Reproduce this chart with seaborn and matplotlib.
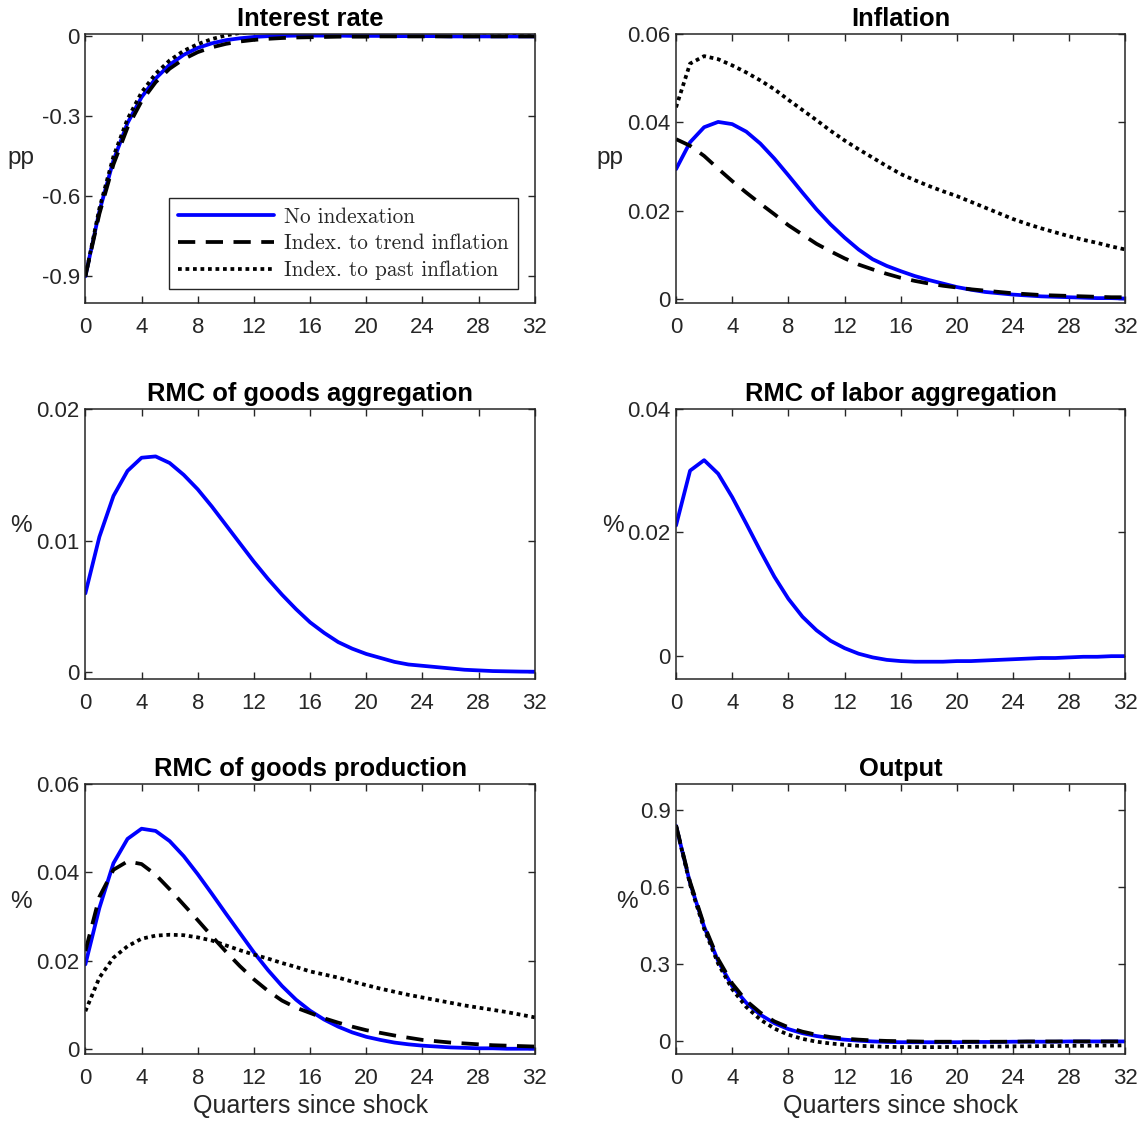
import matplotlib
matplotlib.use("Agg")
import matplotlib.pyplot as plt
import seaborn as sns
from matplotlib.ticker import FixedLocator, FuncFormatter

# ---- impulse responses, quarters 0..32 ----
quarters = list(range(33))

interest_none = [-0.900, -0.655, -0.465, -0.325, -0.228, -0.158, -0.106, -0.069, -0.043, -0.026,
                 -0.014, -0.007, -0.002, 0.001, 0.002, 0.003, 0.003, 0.003, 0.003, 0.002,
                 0.002, 0.002, 0.001, 0.001, 0.001, 0.001, 0.000, 0.000, 0.000, 0.000,
                 0.000, 0.000, 0.000]
interest_trend = [-0.900, -0.665, -0.480, -0.342, -0.243, -0.172, -0.121, -0.085, -0.059, -0.041,
                  -0.028, -0.019, -0.013, -0.009, -0.006, -0.004, -0.003, -0.002, -0.001, -0.001,
                  -0.001, 0.000, 0.000, 0.000, 0.000, 0.000, 0.000, 0.000, 0.000, 0.000,
                  0.000, 0.000, 0.000]
interest_past = [-0.900, -0.645, -0.450, -0.310, -0.210, -0.140, -0.090, -0.054, -0.029, -0.010,
                 0.004, 0.013, 0.017, 0.019, 0.020, 0.021, 0.021, 0.021, 0.021, 0.020,
                 0.020, 0.019, 0.019, 0.018, 0.017, 0.017, 0.016, 0.015, 0.015, 0.014,
                 0.013, 0.013, 0.012]

inflation_none = [0.0294, 0.0355, 0.0389, 0.0401, 0.0396, 0.0379, 0.0352, 0.0318, 0.0280, 0.0241,
                  0.0203, 0.0169, 0.0139, 0.0112, 0.0090, 0.0075, 0.0063, 0.0052, 0.0043, 0.0035,
                  0.0027, 0.0021, 0.0016, 0.0013, 0.0010, 0.0008, 0.0006, 0.0005, 0.0004, 0.0003,
                  0.0002, 0.0002, 0.0001]
inflation_trend = [0.0362, 0.0347, 0.0324, 0.0295, 0.0267, 0.0241, 0.0216, 0.0192, 0.0167, 0.0146,
                   0.0125, 0.0108, 0.0092, 0.0078, 0.0067, 0.0057, 0.0048, 0.0041, 0.0035, 0.0030,
                   0.0026, 0.0022, 0.0019, 0.0016, 0.0013, 0.0011, 0.0009, 0.0008, 0.0007, 0.0006,
                   0.0005, 0.0004, 0.0004]
inflation_past = [0.0434, 0.0533, 0.0550, 0.0543, 0.0529, 0.0513, 0.0495, 0.0475, 0.0451, 0.0428,
                  0.0405, 0.0381, 0.0359, 0.0339, 0.0320, 0.0301, 0.0283, 0.0269, 0.0256, 0.0244,
                  0.0233, 0.0220, 0.0207, 0.0194, 0.0181, 0.0170, 0.0160, 0.0151, 0.0142, 0.0134,
                  0.0127, 0.0119, 0.0112]

rmc_goods_agg = [0.0060, 0.0103, 0.0134, 0.0153, 0.0163, 0.0164, 0.0159, 0.0150, 0.0139, 0.0126,
                 0.0112, 0.0098, 0.0084, 0.0071, 0.0059, 0.0048, 0.0038, 0.0030, 0.0023, 0.0018,
                 0.0014, 0.0011, 0.0008, 0.0006, 0.0005, 0.0004, 0.0003, 0.0002, 0.00015, 0.0001,
                 0.00008, 0.00006, 0.00005]

rmc_labor_agg = [0.0211, 0.0300, 0.0317, 0.0295, 0.0257, 0.0214, 0.0170, 0.0128, 0.0092, 0.0063,
                 0.0041, 0.0024, 0.0012, 0.0003, -0.0003, -0.0007, -0.0009, -0.0010, -0.0010, -0.0010,
                 -0.0009, -0.0009, -0.0008, -0.0007, -0.0006, -0.0005, -0.0004, -0.0004, -0.0003, -0.0002,
                 -0.0002, -0.0001, -0.0001]

rmc_prod_none = [0.0192, 0.0320, 0.0421, 0.0476, 0.0499, 0.0494, 0.0471, 0.0437, 0.0396, 0.0352,
                 0.0307, 0.0263, 0.0219, 0.0179, 0.0143, 0.0112, 0.0087, 0.0067, 0.0051, 0.0038,
                 0.0028, 0.0021, 0.0015, 0.0011, 0.0008, 0.0006, 0.0004, 0.0003, 0.0002, 0.0002,
                 0.0001, 0.0001, 0.0001]
rmc_prod_trend = [0.0222, 0.0345, 0.0406, 0.0425, 0.0419, 0.0395, 0.0362, 0.0327, 0.0292, 0.0256,
                  0.0221, 0.0188, 0.0158, 0.0132, 0.0110, 0.0094, 0.0082, 0.0070, 0.0060, 0.0051,
                  0.0043, 0.0037, 0.0031, 0.0026, 0.0021, 0.0018, 0.0015, 0.0013, 0.0011, 0.0009,
                  0.0008, 0.0007, 0.0006]
rmc_prod_past = [0.0086, 0.0162, 0.0207, 0.0233, 0.0250, 0.0257, 0.0259, 0.0258, 0.0253, 0.0246,
                 0.0235, 0.0224, 0.0214, 0.0205, 0.0195, 0.0186, 0.0176, 0.0169, 0.0162, 0.0153,
                 0.0145, 0.0137, 0.0130, 0.0123, 0.0117, 0.0111, 0.0105, 0.0099, 0.0094, 0.0089,
                 0.0084, 0.0078, 0.0072]

output_none = [0.838, 0.615, 0.446, 0.312, 0.215, 0.150, 0.104, 0.071, 0.048, 0.032,
               0.021, 0.013, 0.007, 0.003, 0.000, -0.002, -0.003, -0.003, -0.003, -0.003,
               -0.003, -0.002, -0.002, -0.002, -0.001, -0.001, -0.001, -0.001, 0.000, 0.000,
               0.000, 0.000, 0.000]
output_trend = [0.840, 0.620, 0.452, 0.320, 0.225, 0.158, 0.112, 0.078, 0.055, 0.038,
                0.026, 0.017, 0.011, 0.007, 0.004, 0.002, 0.001, 0.000, -0.001, -0.001,
                -0.001, -0.001, -0.001, -0.001, -0.001, 0.000, 0.000, 0.000, 0.000, 0.000,
                0.000, 0.000, 0.000]
output_past = [0.838, 0.610, 0.438, 0.302, 0.203, 0.134, 0.085, 0.050, 0.026, 0.010,
               -0.001, -0.008, -0.013, -0.017, -0.019, -0.021, -0.022, -0.022, -0.022, -0.022,
               -0.021, -0.021, -0.020, -0.020, -0.019, -0.019, -0.018, -0.018, -0.017, -0.017,
               -0.016, -0.016, -0.015]

legend_labels = ["No indexation", "Index. to trend inflation", "Index. to past inflation"]
x_ticks = [0, 4, 8, 12, 16, 20, 24, 28, 32]

# ---- styling ----
sns.set_theme(style="ticks")
plt.rcParams["font.family"] = ["Liberation Sans", "DejaVu Sans"]
plt.rcParams["axes.unicode_minus"] = False

INK = "#262626"
LW = 2.7
TICK_FS = 16
LABEL_FS = 18
TITLE_FS = 18.4
styles = [
    dict(color="#0000ff", linestyle="-"),
    dict(color="black", linestyle=(0, (4.6, 2.8))),
    dict(color="black", linestyle=(0, (1.0, 1.0)), dash_capstyle="butt"),
]

fig = plt.figure(figsize=(11.46, 11.23), dpi=100)

col_left = [0.0745, 0.5899]
col_w = 0.3922
row_bottom = [0.7302, 0.3954, 0.0614]
row_h = [0.2395, 0.2404, 0.2404]


def fmt(v, pos):
    if abs(v) < 1e-12:
        return "0"
    return ("%g" % v)


def make_axes(row, col):
    return fig.add_axes([col_left[col], row_bottom[row], col_w, row_h[row]])


def style_axes(ax, title, ylabel, yticks, ylim, label_xy, xlabel=None):
    ax.set_xlim(0, 32)
    ax.set_ylim(*ylim)
    ax.xaxis.set_major_locator(FixedLocator(x_ticks))
    ax.yaxis.set_major_locator(FixedLocator(yticks))
    ax.yaxis.set_major_formatter(FuncFormatter(fmt))
    ax.xaxis.set_major_formatter(FuncFormatter(fmt))
    ax.tick_params(direction="in", top=True, right=True, length=5, width=1.0,
                   colors=INK, labelsize=TICK_FS)
    ax.tick_params(axis="x", pad=10)
    ax.tick_params(axis="y", pad=4)
    for s in ax.spines.values():
        s.set_color(INK)
        s.set_linewidth(1.1)
        s.set_visible(True)
    ax.set_title(title, fontsize=TITLE_FS, fontweight="bold", color="black", pad=6)
    ax.set_ylabel(ylabel, rotation=0, fontsize=17.5, color=INK, ha="center", va="center")
    ax.yaxis.set_label_coords(*label_xy)
    if xlabel:
        ax.set_xlabel(xlabel, fontsize=LABEL_FS, color=INK, labelpad=4)
    else:
        ax.set_xlabel("")


def draw(ax, series, labels=None):
    for i, ys in enumerate(series):
        kw = dict(styles[i])
        if labels:
            kw["label"] = labels[i]
        sns.lineplot(x=quarters, y=ys, ax=ax, linewidth=LW, legend=False, **kw)


# Interest rate
ax = make_axes(0, 0)
draw(ax, [interest_none, interest_trend, interest_past], legend_labels)
style_axes(ax, "Interest rate", "pp", [-0.9, -0.6, -0.3, 0], (-1.0, 0.009), (-0.143, 0.54))
leg = ax.legend(loc="lower right", bbox_to_anchor=(0.962, 0.052), frameon=True, fancybox=False,
                framealpha=1, edgecolor=INK, handlelength=4.5, handletextpad=0.5,
                labelspacing=0.34, borderpad=0.42, borderaxespad=0,
                prop={"family": "cmr10", "size": 15.3})
leg.get_frame().set_linewidth(1.0)

# Inflation
ax = make_axes(0, 1)
draw(ax, [inflation_none, inflation_trend, inflation_past])
style_axes(ax, "Inflation", "pp", [0, 0.02, 0.04, 0.06], (-0.0009, 0.06), (-0.147, 0.54))

# RMC of goods aggregation
ax = make_axes(1, 0)
draw(ax, [rmc_goods_agg])
style_axes(ax, "RMC of goods aggregation", "%", [0, 0.01, 0.02], (-0.0005, 0.02), (-0.143, 0.567))

# RMC of labor aggregation
ax = make_axes(1, 1)
draw(ax, [rmc_labor_agg])
style_axes(ax, "RMC of labor aggregation", "%", [0, 0.02, 0.04], (-0.0038, 0.04), (-0.14, 0.567))

# RMC of goods production
ax = make_axes(2, 0)
draw(ax, [rmc_prod_none, rmc_prod_trend, rmc_prod_past])
style_axes(ax, "RMC of goods production", "%", [0, 0.02, 0.04, 0.06], (-0.0011, 0.06),
           (-0.143, 0.562), xlabel="Quarters since shock")

# Output
ax = make_axes(2, 1)
draw(ax, [output_none, output_trend, output_past])
style_axes(ax, "Output", "%", [0, 0.3, 0.6, 0.9], (-0.049, 1.0),
           (-0.11, 0.562), xlabel="Quarters since shock")

fig.savefig("out.png", dpi=100, facecolor="white")
